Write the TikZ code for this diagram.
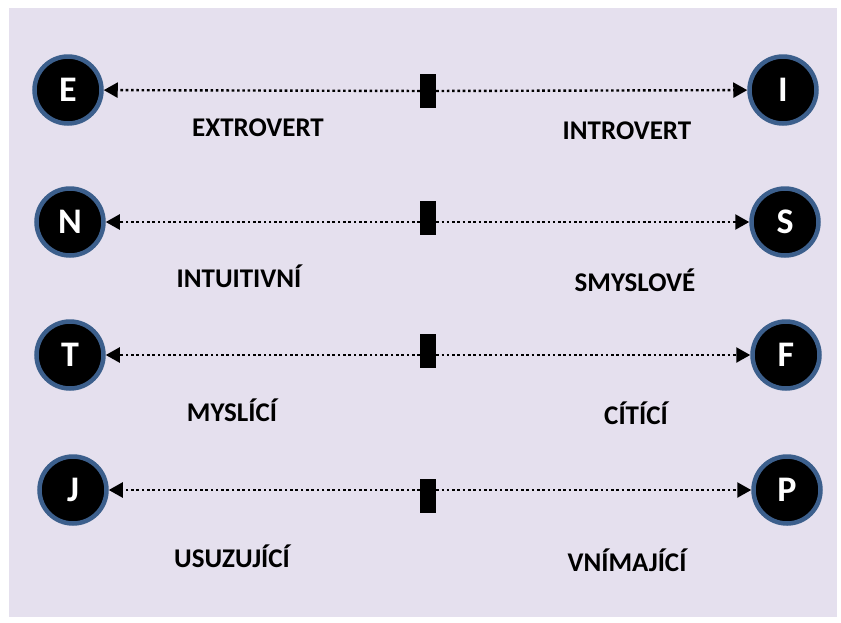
\documentclass[tikz,border=0pt]{standalone}
\usepackage{fontspec}
\setmainfont{Carlito}
\usetikzlibrary{arrows.meta}
\definecolor{bgc}{HTML}{E5E0EE}
\definecolor{ringc}{HTML}{3C5F8C}
\tikzset{
  letter/.style={circle,fill=black,draw=ringc,line width=4.5pt,minimum size=67pt,inner sep=0pt,text=white,font=\fontsize{36}{36}\selectfont\bfseries},
  barbox/.style={rectangle,fill=black,minimum width=16pt,minimum height=34pt,inner sep=0pt},
  conn/.style={line width=2.4pt,dash pattern=on 2.6pt off 2.7pt,-{Triangle[length=14pt,width=15pt]}},
  lbl/.style={font=\fontsize{27}{27}\selectfont\bfseries}
}
\begin{document}
\begin{tikzpicture}[x=1pt,y=-1pt]
\useasboundingbox (0,0) rectangle (841,622);
\fill[bgc] (9,8) rectangle (837,617);
% row 1
\node[letter] (E) at (68,90) {E};
\node[letter] (I) at (783,90) {I};
\node[barbox] (b1) at (428,91) {};
\draw[conn] (b1) -- (E);
\draw[conn] (b1) -- (I);
\node[lbl] (l1) at (258,128) {EXTROVERT};
\node[lbl] (r1) at (627,131) {INTROVERT};
% row 2
\node[letter] (N) at (70,222) {N};
\node[letter] (S) at (785,222) {S};
\node[barbox] (b2) at (428,218) {};
\draw[conn] (b2.west |- N) -- (N);
\draw[conn] (b2.east |- S) -- (S);
\node[lbl] (l2) at (239,276) {INTUITIVNÍ};
\node[lbl] (r2) at (635,280) {SMYSLOVÉ};
% row 3
\node[letter] (T) at (70,355) {T};
\node[letter] (F) at (786,355) {F};
\node[barbox] (b3) at (428,351) {};
\draw[conn] (b3.west |- T) -- (T);
\draw[conn] (b3.east |- F) -- (F);
\node[lbl] (l3) at (232,410) {MYSLÍCÍ};
\node[lbl] (r3) at (636,413) {CÍTÍCÍ};
% row 4
\node[letter] (J) at (73,490) {J};
\node[letter] (P) at (787,490) {P};
\node[barbox] (b4) at (428,496) {};
\draw[conn] (b4.west |- J) -- (J);
\draw[conn] (b4.east |- P) -- (P);
\node[lbl] (l4) at (232,556) {USUZUJÍCÍ};
\node[lbl] (r4) at (627,560) {VNÍMAJÍCÍ};
\end{tikzpicture}
\end{document}
